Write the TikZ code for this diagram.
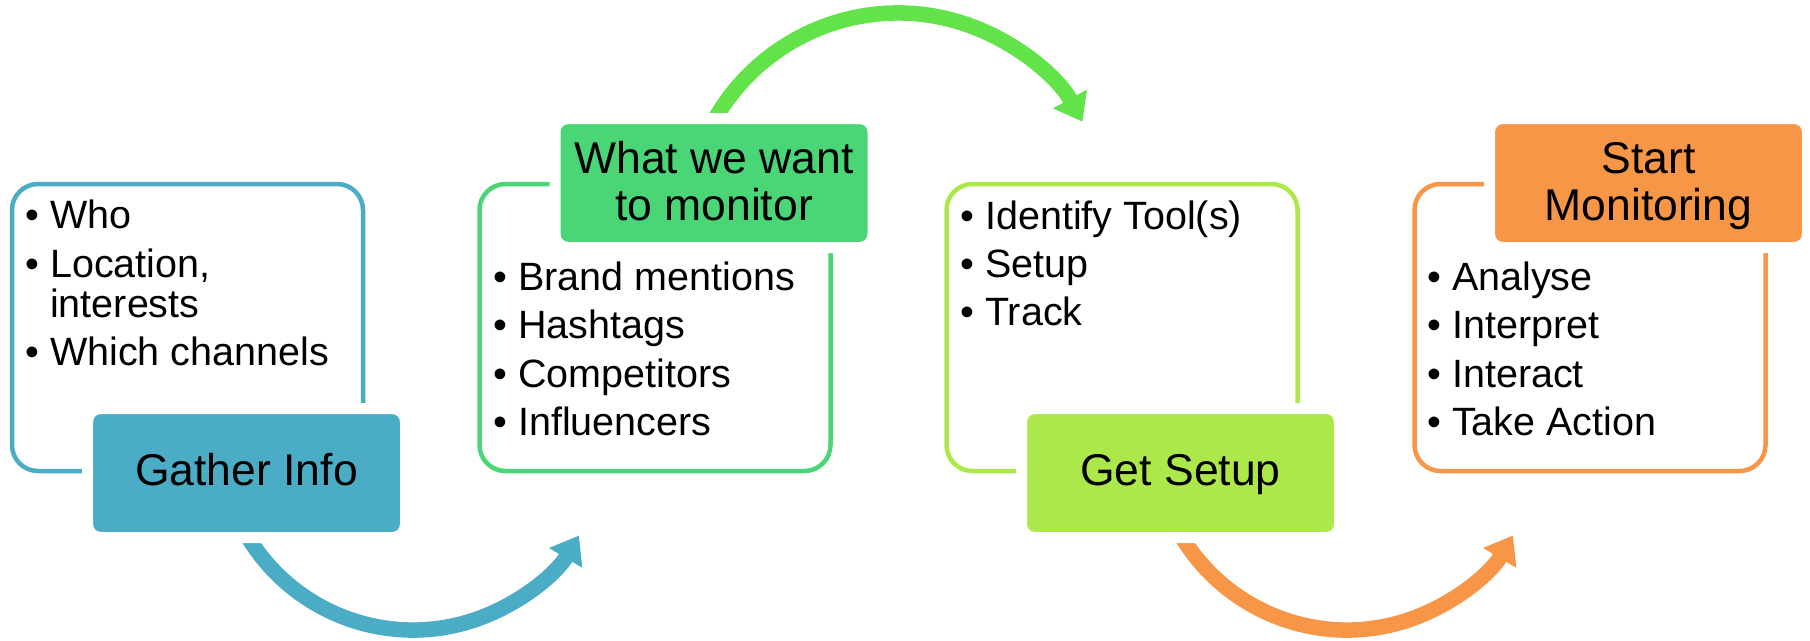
\documentclass[tikz,border=0pt]{standalone}
\usepackage{fontspec}
\setmainfont{Liberation Sans}
\usetikzlibrary{arrows.meta}
\definecolor{cblue}{HTML}{4BACC6}
\definecolor{cgreen}{HTML}{4AD677}
\definecolor{cgreenarrow}{HTML}{62E34A}
\definecolor{clime}{HTML}{ADE84B}
\definecolor{corange}{HTML}{F79646}
\begin{document}
\begin{tikzpicture}[x=1pt,y=-1pt,
  outline/.style={draw=#1, line width=4.5pt, rounded corners=26pt, minimum width=351pt, minimum height=287pt, inner sep=0pt},
  titlebox/.style={fill=#1, draw=white, line width=11pt, rounded corners=13pt, minimum width=318pt, minimum height=129pt, inner sep=0pt},
  titletext/.style={anchor=base, inner sep=0pt, font=\fontsize{44.5pt}{53pt}\selectfont},
  item/.style={anchor=base west, inner sep=0pt, font=\fontsize{39.5pt}{47pt}\selectfont},
  flow/.style={draw=#1, line width=15.5pt, -{Triangle[length=26pt,width=37pt]}},
]
\useasboundingbox (0,0) rectangle (1810,640);
% arc centres
\coordinate (c1) at (413,437);
\coordinate (c2) at (898,224);
\coordinate (c3) at (1347,437);
% arrows
\draw[flow=cblue] ([shift={(160:193)}]c1) arc[start angle=160, end angle=30.7, radius=193];
\draw[flow=cgreenarrow] ([shift={(200:211)}]c2) arc[start angle=200, end angle=331, radius=211];
\draw[flow=corange] ([shift={(160:193)}]c3) arc[start angle=160, end angle=30.7, radius=193];
% outline boxes
\node[outline=cblue] (o1) at (187.5,327.5) {};
\node[outline=cgreen] (o2) at (655,327.5) {};
\node[outline=clime] (o3) at (1122,327.5) {};
\node[outline=corange] (o4) at (1590,327.5) {};
% title boxes
\node[titlebox=cblue] (f1) at (246.5,473) {};
\node[titlebox=cgreen] (f2) at (714,183) {};
\node[titlebox=clime] (f3) at (1180.5,473) {};
\node[titlebox=corange] (f4) at (1648.5,183) {};
% titles
\node[titletext] (t1) at (246.5,485) {Gather Info};
\node[titletext] (t2a) at (714,173) {What we want};
\node[titletext] (t2b) at (714,220) {to monitor};
\node[titletext] (t3) at (1180.5,485) {Get Setup};
\node[titletext] (t4a) at (1648.5,173) {Start};
\node[titletext] (t4b) at (1648.5,220) {Monitoring};
% items box 1
\node[item] (a1) at (25,228) {\makebox[25pt][l]{\textbullet}Who};
\node[item] (a2) at (25,277) {\makebox[25pt][l]{\textbullet}Location,};
\node[item] (a3) at (50,317) {interests};
\node[item] (a4) at (25,365) {\makebox[25pt][l]{\textbullet}Which channels};
% items box 2
\node[item] (b1) at (493,290) {\makebox[25pt][l]{\textbullet}Brand mentions};
\node[item] (b2) at (493,338) {\makebox[25pt][l]{\textbullet}Hashtags};
\node[item] (b3) at (493,387) {\makebox[25pt][l]{\textbullet}Competitors};
\node[item] (b4) at (493,435) {\makebox[25pt][l]{\textbullet}Influencers};
% items box 3
\node[item] (d1) at (960,229) {\makebox[25pt][l]{\textbullet}Identify Tool(s)};
\node[item] (d2) at (960,277) {\makebox[25pt][l]{\textbullet}Setup};
\node[item] (d3) at (960,325) {\makebox[25pt][l]{\textbullet}Track};
% items box 4
\node[item] (e1) at (1427,290) {\makebox[25pt][l]{\textbullet}Analyse};
\node[item] (e2) at (1427,338) {\makebox[25pt][l]{\textbullet}Interpret};
\node[item] (e3) at (1427,387) {\makebox[25pt][l]{\textbullet}Interact};
\node[item] (e4) at (1427,435) {\makebox[25pt][l]{\textbullet}Take Action};
\end{tikzpicture}
\end{document}
